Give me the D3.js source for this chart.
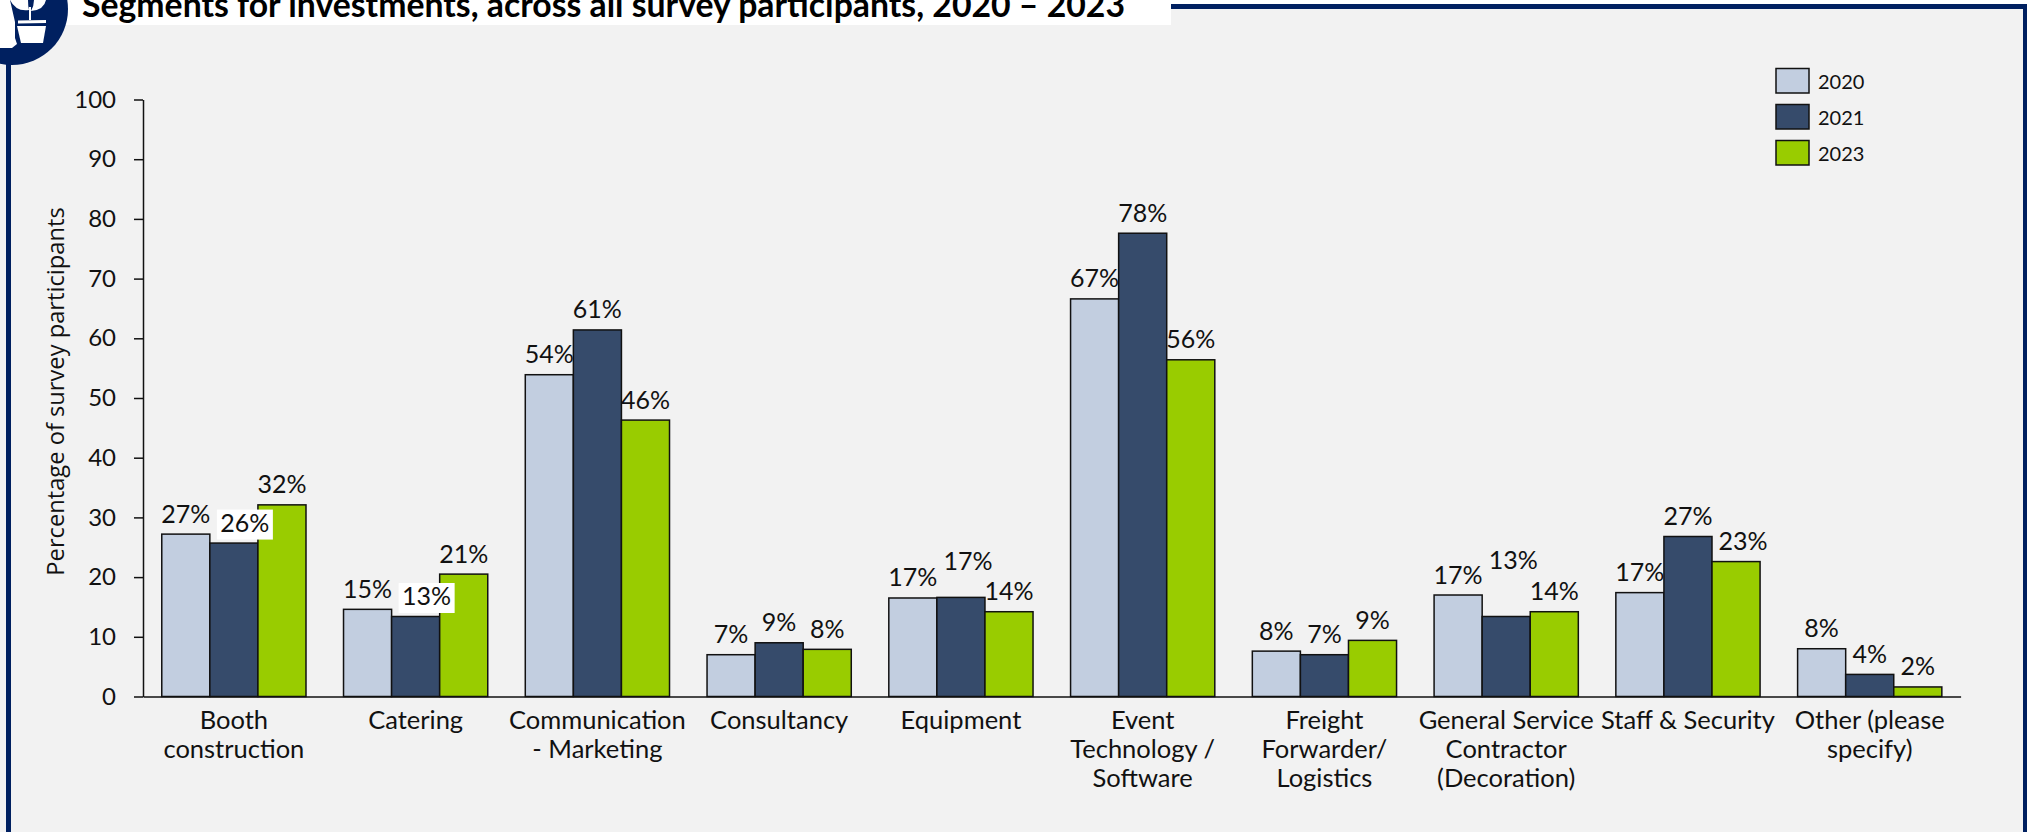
<!DOCTYPE html>
<html>
<head>
<meta charset="utf-8">
<script src="https://cdn.jsdelivr.net/npm/d3@7"></script>
<style>
html,body{margin:0;padding:0;background:#f2f2f2;overflow:hidden}
svg{display:block}
text{font-family:Lato,sans-serif;fill:#111}
</style>
</head>
<body>
<svg id="c" width="2027" height="832"></svg>
<script>
const categories = ["Booth\nconstruction","Catering","Communication\n- Marketing","Consultancy","Equipment","Event\nTechnology /\nSoftware","Freight\nForwarder/\nLogistics","General Service\nContractor\n(Decoration)","Staff & Security","Other (please\nspecify)"];
const years = ["2020","2021","2023"];
const values2020 = [27.2,14.6,53.9,7.0,16.5,66.6,7.6,17.0,17.4,8.0];
const values2021 = [25.7,13.4,61.4,9.0,16.6,77.6,7.0,13.4,26.8,3.7];
const values2023 = [32.1,20.5,46.3,7.9,14.2,56.4,9.4,14.2,22.6,1.6];
const yTicks = [0,10,20,30,40,50,60,70,80,90,100];
const titleText = "Segments for investments, across all survey participants, 2020 – 2023";
const yTitle = "Percentage of survey participants";
const colors = ["#c2cee0","#364b6b","#99cc00"];

const series = [values2020,values2021,values2023];
// hand-placed data labels in the reference: "category|year" -> [dx, dy, boxed]
const labelNudges = {"0|1":[11,0,true],"1|1":[11,0,true],"4|1":[7,-16,false],"7|1":[7,-36,false],"8|2":[7,0,false]};

const svg = d3.select("#c");
const navy = "#002060";

// frame
svg.append("rect").attr("width",2027).attr("height",4).attr("fill","#fff");
svg.append("rect").attr("x",0).attr("y",0).attr("width",1171).attr("height",25).attr("fill","#fff");
svg.append("rect").attr("x",1171).attr("y",4).attr("width",856).attr("height",5).attr("fill",navy);
svg.append("rect").attr("x",2023).attr("y",4).attr("width",4).attr("height",828).attr("fill",navy);
svg.append("rect").attr("x",6).attr("y",25).attr("width",5).attr("height",807).attr("fill",navy);

// icon
svg.append("circle").attr("cx",12).attr("cy",9).attr("r",56).attr("fill",navy);
const ic = svg.append("g").attr("fill","#fff");
ic.append("path").attr("d","M0,0 L10,0 L15,22 L15,38 L17,44 L12,48 L0,48 Z");
ic.append("path").attr("d","M17,26 L46,26 L43,43 L21,43 Z");
ic.append("path").attr("d","M18,20.5 L46,20 L46,23 L18,23.5 Z");
ic.append("path").attr("d","M29,7 L31,7 L31,20 L29,20 Z");
ic.append("path").attr("d","M10,0 L28,0 Q28,6 29,10 Q16,12 10,0 Z");
ic.append("path").attr("d","M34,0 L46,0 Q44,10 31,11 Q34,6 34,0 Z");

// title
svg.append("text").attr("x",82).attr("y",17).attr("font-size",34).attr("font-weight",700)
  .style("fill","#000").text(titleText)
  .attr("textLength",1043).attr("lengthAdjust","spacingAndGlyphs");

// scales
const x0 = d3.scaleBand().domain(categories).range([143,1960.6]).paddingInner(0.2065).paddingOuter(0.10325);
const x1 = d3.scaleBand().domain(years).range([0,x0.bandwidth()]);
const y = d3.scaleLinear().domain([0,100]).range([696.5,99.5]);

// bars
const groups = svg.append("g").selectAll("g").data(categories).join("g")
  .attr("transform",d=>`translate(${x0(d)},0)`);
groups.selectAll("rect").data((d,i)=>years.map((yr,k)=>({yr,k,v:series[k][i]}))).join("rect")
  .attr("x",d=>x1(d.yr)).attr("y",d=>y(d.v)).attr("width",x1.bandwidth()).attr("height",d=>y(0)-y(d.v))
  .attr("fill",d=>colors[d.k]).attr("stroke","#111").attr("stroke-width",1.5);

// data labels
groups.each(function(d,i){
  const g = d3.select(this);
  years.forEach((yr,k)=>{
    const v = series[k][i];
    const n = labelNudges[i+"|"+k] || [0,0,false];
    const cx = x1(yr)+x1.bandwidth()/2+n[0], by = y(v)-11.5+n[1];
    if(n[2]) g.append("rect").attr("x",cx-28).attr("y",by-22).attr("width",56).attr("height",30).attr("fill","#fff");
    g.append("text").attr("x",cx).attr("y",by).attr("text-anchor","middle").attr("font-size",25).text(Math.round(v)+"%");
  });
});

// y axis
const yAxis = svg.append("g").attr("transform","translate(143,0)")
  .call(d3.axisLeft(y).tickValues(yTicks).tickSize(9).tickPadding(18).tickSizeOuter(0));
yAxis.selectAll("path,line").attr("stroke","#111").attr("stroke-width",1.5);
yAxis.selectAll("text").attr("font-size",24).style("font-family","Lato,sans-serif").attr("fill","#111");

// x axis
const xAxis = svg.append("g").attr("transform","translate(0,696.5)")
  .call(d3.axisBottom(x0).tickSize(0).tickSizeOuter(0).tickFormat(""));
xAxis.select("path").attr("stroke","#111").attr("stroke-width",1.5);
xAxis.selectAll(".tick").each(function(d){
  const t = d3.select(this).select("text").attr("y",0).attr("dy",null).attr("font-size",25.5)
    .style("font-family","Lato,sans-serif").attr("fill","#111");
  d.split("\n").forEach((line,i)=>{
    t.append("tspan").attr("x",0).attr("y",32+i*29).text(line);
  });
});

// y title
svg.append("text").attr("transform","translate(64,391.5) rotate(-90)").attr("text-anchor","middle")
  .attr("font-size",23.7).style("font-family","'Open Sans',sans-serif").text(yTitle);

// legend
const leg = svg.append("g").selectAll("g").data(years).join("g")
  .attr("transform",(d,i)=>`translate(1776,${68.5+i*36})`);
leg.append("rect").attr("width",33).attr("height",24.5).attr("fill",(d,i)=>colors[i]).attr("stroke","#111").attr("stroke-width",1.5);
leg.append("text").attr("x",42).attr("y",20).attr("font-size",20).text(d=>d);
</script>
</body>
</html>
